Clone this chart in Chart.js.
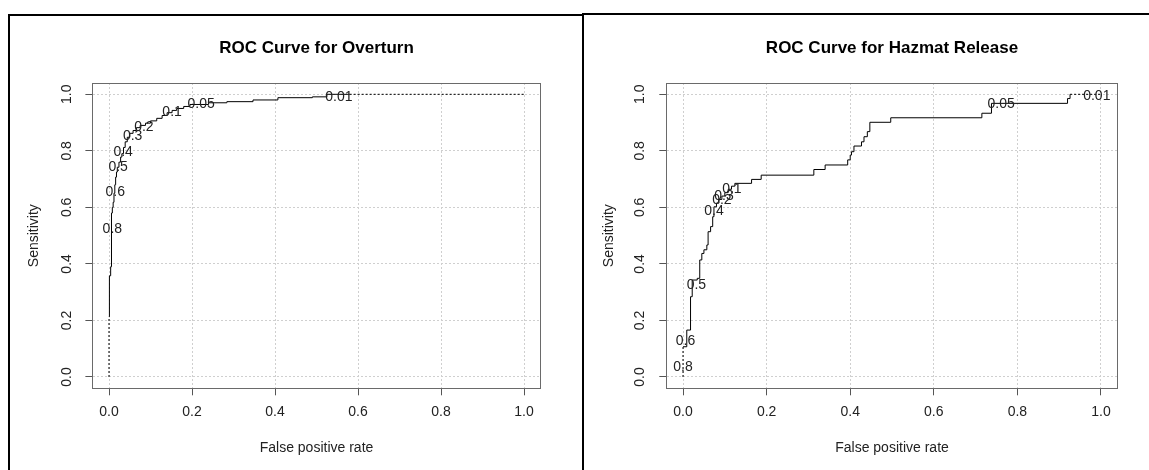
<!DOCTYPE html>
<html>
<head>
<meta charset="utf-8">
<script src="https://cdn.jsdelivr.net/npm/chart.js@4.4.1/dist/chart.umd.min.js"></script>
<style>
  body { margin: 0; background: #fff; width: 1149px; height: 470px; overflow: hidden; position: relative; }
  .rule { position: absolute; background: #000; }
  .panel { position: absolute; top: 16px; }
</style>
</head>
<body>
<div class="rule" style="left:8px;top:14px;width:576px;height:2px"></div>
<div class="rule" style="left:582px;top:13px;width:567px;height:2px"></div>
<div class="rule" style="left:8px;top:14px;width:2px;height:456px"></div>
<div class="rule" style="left:582px;top:13px;width:2px;height:457px"></div>
<div class="panel" style="left:10px"><canvas id="overturnChart" width="572" height="454"></canvas></div>
<div class="panel" style="left:585px"><canvas id="hazmatChart" width="564" height="454"></canvas></div>
<script>
const axisTicks = [0, 0.2, 0.4, 0.6, 0.8, 1.0];

// ROC for overturn: step corners (false positive rate, sensitivity)
const overturnFpr = [0.000, 0.001, 0.004, 0.006, 0.008, 0.010, 0.012, 0.014, 0.016, 0.018, 0.020, 0.024,
    0.028, 0.031, 0.035, 0.039, 0.044, 0.050, 0.058, 0.066, 0.075, 0.088, 0.100, 0.115, 0.128, 0.140,
    0.152, 0.163, 0.180, 0.195, 0.240, 0.284, 0.347, 0.407, 0.490, 0.525, 0.580];
const overturnTpr = [0.213, 0.358, 0.390, 0.580, 0.600, 0.618, 0.650, 0.680, 0.707, 0.725, 0.742, 0.760,
    0.778, 0.790, 0.812, 0.832, 0.848, 0.862, 0.872, 0.882, 0.890, 0.898, 0.906, 0.915, 0.925, 0.935,
    0.943, 0.950, 0.957, 0.964, 0.970, 0.974, 0.980, 0.988, 0.991, 1.000, 1.000];
const overturnHeadFpr = [0, 0];
const overturnHeadTpr = [0, 0.213];
const overturnTailFpr = [0.580, 1];
const overturnTailTpr = [1, 1];
const overturnCutoffs = ['0.8', '0.6', '0.5', '0.4', '0.3', '0.2', '0.1', '0.05', '0.01'];
const overturnCutoffFpr = [0.008, 0.015, 0.022, 0.034, 0.057, 0.084, 0.152, 0.222, 0.554];
const overturnCutoffTpr = [0.522, 0.655, 0.743, 0.796, 0.851, 0.885, 0.936, 0.964, 0.991];

// ROC for hazmat release
const hazmatFpr = [0.000, 0.009, 0.018, 0.022, 0.034, 0.040, 0.045, 0.050, 0.057, 0.060, 0.066, 0.071, 0.074,
    0.080, 0.086, 0.093, 0.100, 0.108, 0.116, 0.124, 0.164, 0.187, 0.313, 0.340, 0.394, 0.400, 0.403,
    0.409, 0.427, 0.433, 0.441, 0.447, 0.497, 0.715, 0.738, 0.920, 0.926];
const hazmatTpr = [0.107, 0.166, 0.284, 0.343, 0.349, 0.414, 0.437, 0.450, 0.467, 0.514, 0.532, 0.567, 0.602,
    0.615, 0.628, 0.640, 0.652, 0.664, 0.675, 0.685, 0.699, 0.714, 0.734, 0.750, 0.768, 0.785, 0.797,
    0.817, 0.832, 0.850, 0.868, 0.901, 0.917, 0.933, 0.968, 0.985, 1.000];
const hazmatHeadFpr = [0, 0];
const hazmatHeadTpr = [0, 0.107];
const hazmatTailFpr = [0.926, 1];
const hazmatTailTpr = [1, 1];
const hazmatCutoffs = ['0.8', '0.6', '0.5', '0.4', '0.2', '0.3', '0.1', '0.05', '0.01'];
const hazmatCutoffFpr = [0.000, 0.006, 0.032, 0.074, 0.093, 0.098, 0.117, 0.761, 0.990];
const hazmatCutoffTpr = [0.036, 0.128, 0.325, 0.587, 0.626, 0.640, 0.663, 0.964, 0.995];

const FONT = '"Liberation Sans", Arial, sans-serif';
const TEXT = '#222';

const toPoints = (xs, ys) => xs.map((x, i) => ({x: x, y: ys[i]}));

const frameBox = {
    id: 'frameBox',
    afterDraw(chart) {
        const a = chart.chartArea;
        const ctx = chart.ctx;
        ctx.save();
        ctx.strokeStyle = '#6a6a6a';
        ctx.lineWidth = 1;
        ctx.strokeRect(Math.round(a.left) + 0.5, Math.round(a.top) + 0.5,
            Math.round(a.right - a.left), Math.round(a.bottom - a.top));
        ctx.restore();
    }
};

const cutoffText = {
    id: 'cutoffText',
    afterDatasetsDraw(chart, args, opts) {
        const ctx = chart.ctx;
        const xs = chart.scales.x, ys = chart.scales.y;
        ctx.save();
        ctx.font = '14px ' + FONT;
        ctx.fillStyle = TEXT;
        ctx.textAlign = 'center';
        ctx.textBaseline = 'middle';
        opts.labels.forEach((t, i) => {
            ctx.fillText(t, xs.getPixelForValue(opts.fpr[i]), ys.getPixelForValue(opts.tpr[i]));
        });
        ctx.restore();
    }
};

function makeRoc(canvasId, title, curve, head, tail, cutoffs, yWidth, rightPad) {
    const lineStyle = {showLine: true, pointRadius: 0, borderColor: '#000', borderWidth: 1, fill: false};
    const config = {
        type: 'scatter',
        data: {
            datasets: [
                Object.assign({data: curve, stepped: 'before'}, lineStyle),
                Object.assign({data: head, borderDash: [2, 2]}, lineStyle),
                Object.assign({data: tail, borderDash: [2, 2]}, lineStyle)
            ]
        },
        options: {
            responsive: false,
            animation: false,
            devicePixelRatio: 1,
            layout: {padding: {left: 0, right: rightPad, top: 0, bottom: 0}},
            plugins: {
                legend: {display: false},
                tooltip: {enabled: false},
                title: {
                    display: true,
                    text: title,
                    fullSize: false,
                    color: '#000',
                    font: {family: FONT, size: 17, weight: 'bold'},
                    padding: {top: 21.8, bottom: 24.8}
                },
                cutoffText: cutoffs
            },
            scales: {
                x: {
                    type: 'linear',
                    min: -0.04,
                    max: 1.04,
                    afterBuildTicks: s => { s.ticks = axisTicks.map(v => ({value: v})); },
                    afterFit: s => { s.height = 81.7; },
                    ticks: {
                        callback: v => v.toFixed(1),
                        color: TEXT,
                        font: {family: FONT, size: 14},
                        padding: 8,
                        maxRotation: 0
                    },
                    grid: {color: '#cfcfcf', lineWidth: 1, tickColor: '#555', tickLength: 7, tickWidth: 1},
                    border: {display: true, color: '#6a6a6a', dash: [2, 2]},
                    title: {
                        display: true,
                        text: 'False positive rate',
                        color: TEXT,
                        font: {family: FONT, size: 14},
                        padding: {top: 0, bottom: 13}
                    }
                },
                y: {
                    type: 'linear',
                    min: -0.04,
                    max: 1.04,
                    afterBuildTicks: s => { s.ticks = axisTicks.map(v => ({value: v})); },
                    afterFit: s => { s.width = yWidth; },
                    ticks: {
                        callback: v => v.toFixed(1),
                        color: TEXT,
                        font: {family: FONT, size: 14},
                        padding: 9,
                        minRotation: 90,
                        maxRotation: 90,
                        crossAlign: 'center'
                    },
                    grid: {color: '#cfcfcf', lineWidth: 1, tickColor: '#555', tickLength: 7, tickWidth: 1},
                    border: {display: true, color: '#6a6a6a', dash: [2, 2]},
                    title: {
                        display: true,
                        text: 'Sensitivity',
                        color: TEXT,
                        font: {family: FONT, size: 14},
                        padding: {top: 15.8, bottom: 0}
                    }
                }
            }
        },
        plugins: [frameBox, cutoffText]
    };
    return new Chart(document.getElementById(canvasId).getContext('2d'), config);
}

makeRoc('overturnChart', 'ROC Curve for Overturn',
    toPoints(overturnFpr, overturnTpr),
    toPoints(overturnHeadFpr, overturnHeadTpr),
    toPoints(overturnTailFpr, overturnTailTpr),
    {labels: overturnCutoffs, fpr: overturnCutoffFpr, tpr: overturnCutoffTpr},
    82.4, 41.4);

makeRoc('hazmatChart', 'ROC Curve for Hazmat Release',
    toPoints(hazmatFpr, hazmatTpr),
    toPoints(hazmatHeadFpr, hazmatHeadTpr),
    toPoints(hazmatTailFpr, hazmatTailTpr),
    {labels: hazmatCutoffs, fpr: hazmatCutoffFpr, tpr: hazmatCutoffTpr},
    81.3, 31.3);
</script>
</body>
</html>
